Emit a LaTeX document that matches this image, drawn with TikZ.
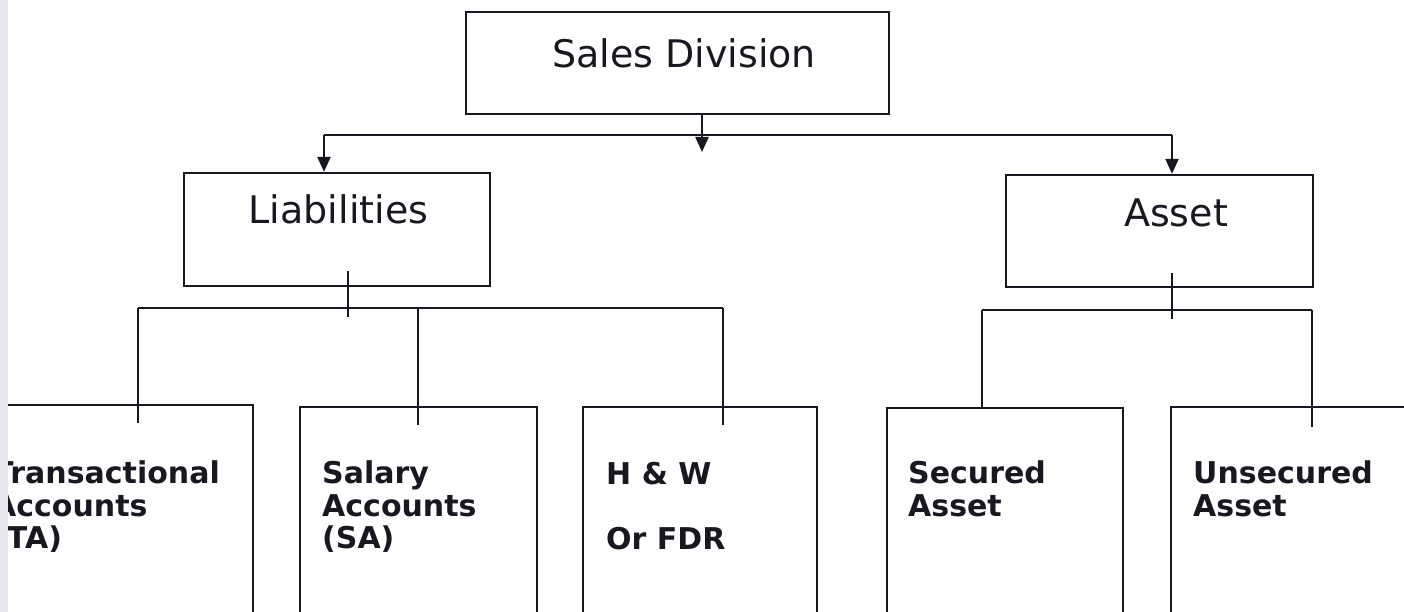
\documentclass[tikz,border=0pt]{standalone}
\usepackage{fontspec}
\setmainfont{DejaVu Sans}
\usetikzlibrary{arrows.meta}
\definecolor{ink}{RGB}{24,24,32}
\definecolor{strip}{RGB}{230,230,238}
\begin{document}
\begin{tikzpicture}[x=1pt,y=-1pt,
  conn/.style={draw=ink, line width=2.3pt},
  arr/.style={conn, -{Triangle[width=13pt,length=15pt]}},
  box/.style={draw=ink, line width=2.3pt, inner sep=0pt},
  toptext/.style={font=\fontsize{38}{44}\selectfont, text=ink, inner sep=0pt, anchor=base},
  subtext/.style={font=\fontsize{30}{32.5}\selectfont\bfseries, text=ink, inner sep=0pt, anchor=north west, align=left}]
\useasboundingbox (0,0) rectangle (1404,612);
\clip (0,0) rectangle (1404,612);
\fill[white] (0,0) rectangle (1404,612);

% boxes
\node[box, minimum width=276pt, minimum height=245pt] (ta) at (115,527.5) {};
\node[box, minimum width=423pt, minimum height=102pt] (sd) at (677.5,63) {};
\node[box, minimum width=306pt, minimum height=113pt] (liab) at (337,229.5) {};
\node[box, minimum width=307pt, minimum height=112pt] (asset) at (1159.5,231) {};
\node[box, minimum width=237pt, minimum height=243pt] (sa) at (418.5,528.5) {};
\node[box, minimum width=234pt, minimum height=243pt] (hw) at (700,528.5) {};
\node[box, minimum width=236pt, minimum height=242pt] (sec) at (1005,529) {};
\node[box, minimum width=259pt, minimum height=243pt] (uns) at (1300.5,528.5) {};

% texts
\node[toptext] (sdt) at (684,68) {Sales Division};
\node[toptext] (liabt) at (338.5,224) {Liabilities};
\node[toptext] (assett) at (1176,227) {Asset};
\node[subtext] (tat) at (-7,461) {Transactional\\Accounts\\(TA)};
\node[subtext] (sat) at (322,461) {Salary\\Accounts\\(SA)};
\node[subtext] (hwt) at (606,462) {H \& W\\\\Or FDR};
\node[subtext] (sect) at (908,461) {Secured\\Asset};
\node[subtext] (unst) at (1193,461) {Unsecured\\Asset};

\fill[strip] (0,0) rectangle (8,612);

% top level connectors
\coordinate (xm) at (702,135);
\coordinate (xl) at (324,135);
\coordinate (xr) at (1172,135);
\coordinate (mtip) at (702,152);
\draw[conn] (xl) -- (xr);
\draw[arr] (sd.south -| xm) -- (mtip);
\draw[arr] (xl) -- (liab.north -| xl);
\draw[arr] (xr) -- (asset.north -| xr);

% liabilities branch
\coordinate (ls1) at (348,271);
\coordinate (ls2) at (348,317);
\coordinate (lh1) at (138,308);
\coordinate (lh2) at (418,308);
\coordinate (lh3) at (723,308);
\coordinate (le1) at (138,423);
\coordinate (le2) at (418,425);
\coordinate (le3) at (723,425);
\draw[conn] (ls1) -- (ls2);
\draw[conn] (lh1) -- (lh3);
\draw[conn] (lh1) -- (le1);
\draw[conn] (lh2) -- (le2);
\draw[conn] (lh3) -- (le3);

% asset branch
\coordinate (as1) at (1172,273);
\coordinate (as2) at (1172,319);
\coordinate (ah1) at (982,310);
\coordinate (ah2) at (1312,310);
\coordinate (ae2) at (1312,427);
\draw[conn] (as1) -- (as2);
\draw[conn] (ah1) -- (ah2);
\draw[conn] (ah1) -- (sec.north -| ah1);
\draw[conn] (ah2) -- (ae2);
\end{tikzpicture}
\end{document}
